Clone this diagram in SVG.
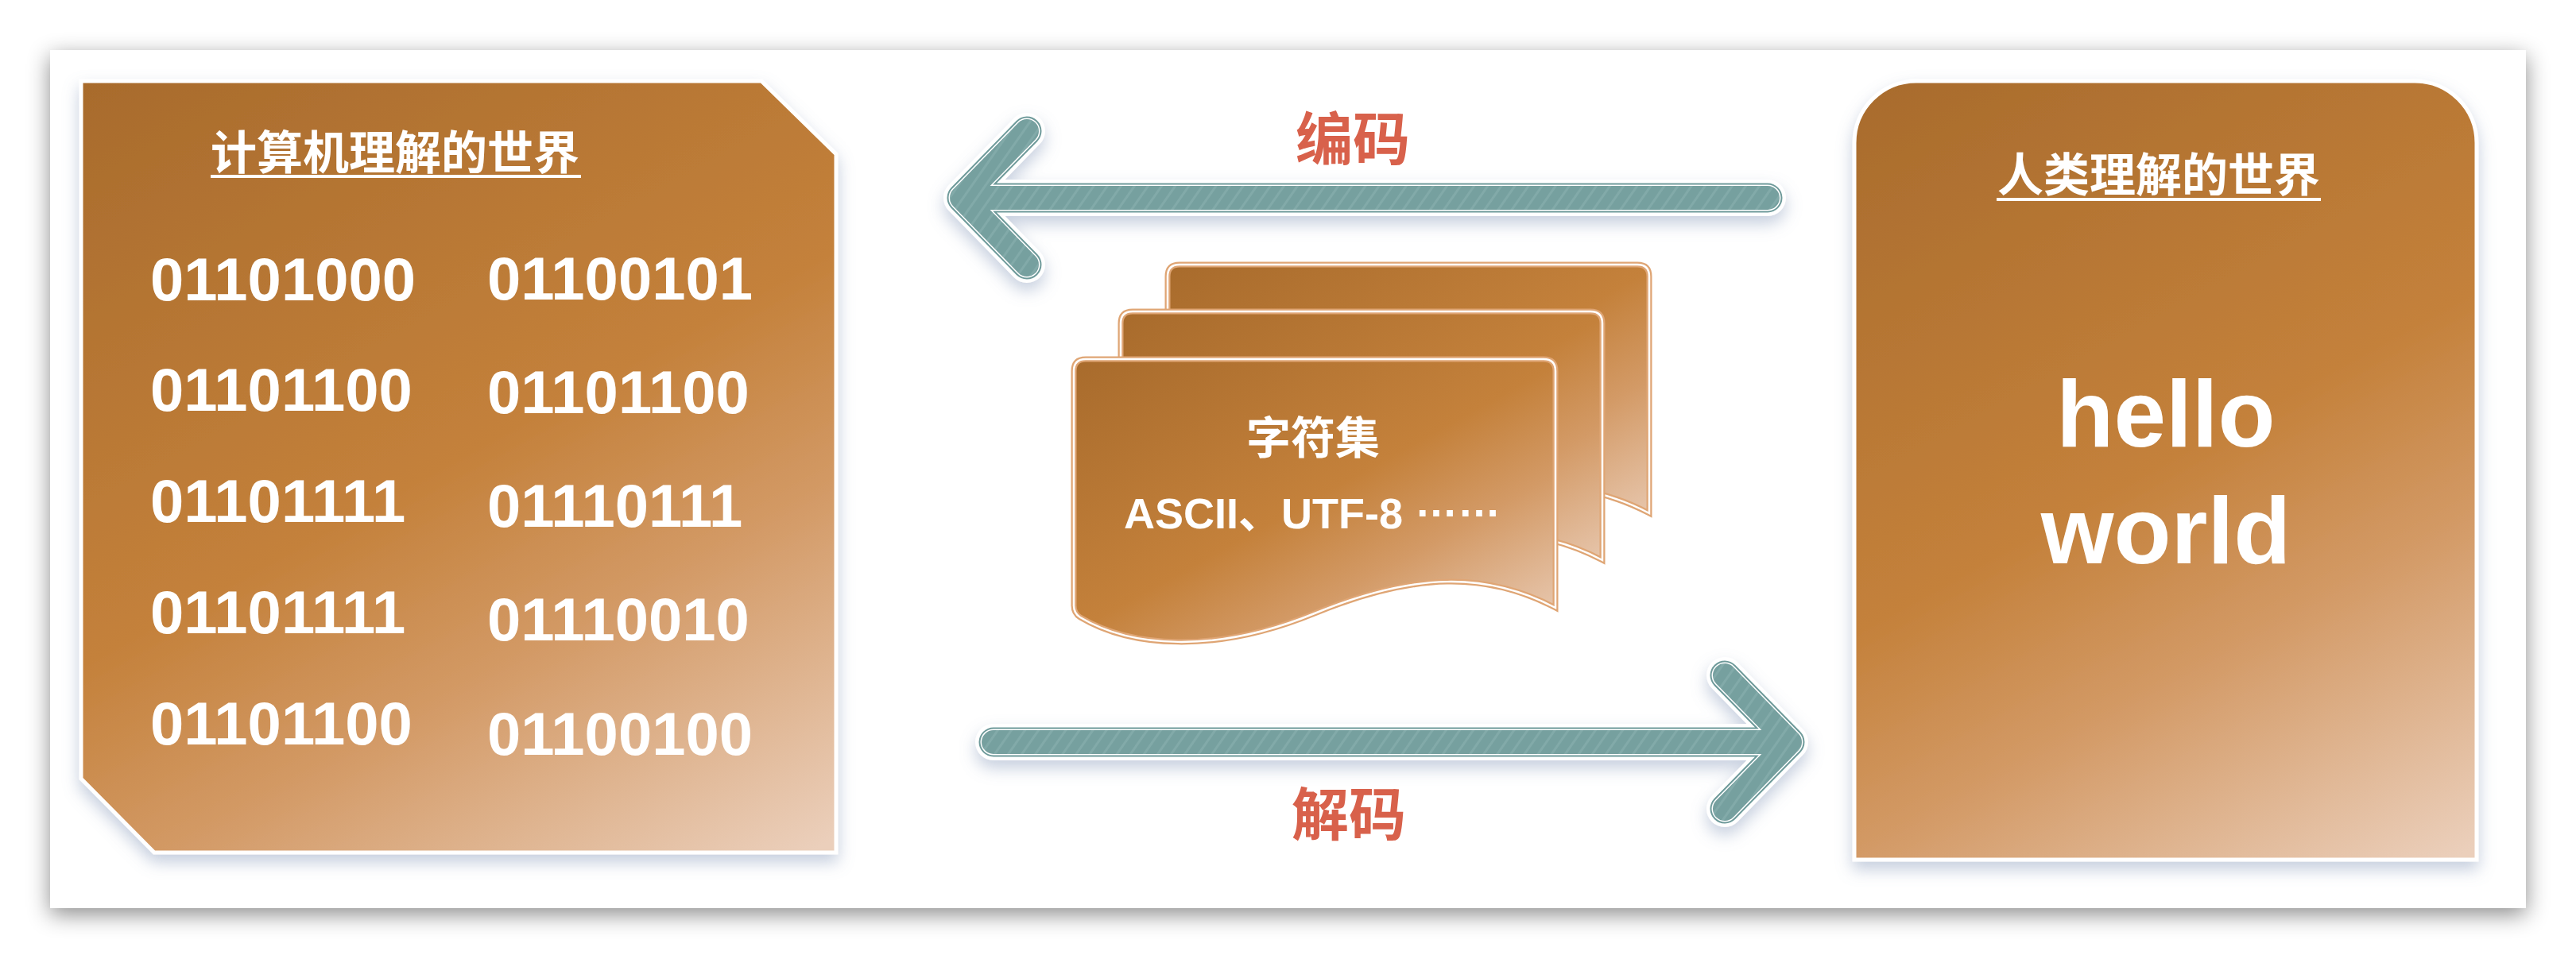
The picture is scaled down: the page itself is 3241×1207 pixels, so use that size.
<svg xmlns="http://www.w3.org/2000/svg" width="3241" height="1207" viewBox="0 0 3241 1207">
<defs>
<filter id="panelShadow" x="-5%" y="-10%" width="110%" height="120%">
<feDropShadow dx="0" dy="8" stdDeviation="14" flood-color="#000" flood-opacity="0.45"/>
</filter>
<filter id="nodeShadow" x="-10%" y="-10%" width="120%" height="125%">
<feDropShadow dx="0" dy="10" stdDeviation="10" flood-color="#7F93B5" flood-opacity="0.45"/>
</filter>
<filter id="arrowShadow" x="-10%" y="-50%" width="120%" height="200%">
<feDropShadow dx="0" dy="10" stdDeviation="10" flood-color="#8296B8" flood-opacity="0.45"/>
</filter>
<linearGradient id="gLeft" gradientUnits="userSpaceOnUse" x1="102" y1="102" x2="726" y2="1234">
<stop offset="0" stop-color="#A86B2C"/>
<stop offset="0.5" stop-color="#C4813B"/>
<stop offset="0.7" stop-color="#D39A66"/>
<stop offset="1" stop-color="#EBCFBB"/>
</linearGradient>
<linearGradient id="gRight" gradientUnits="userSpaceOnUse" x1="2333" y1="102" x2="2923" y2="1171">
<stop offset="0" stop-color="#A86B2C"/>
<stop offset="0.5" stop-color="#C4813B"/>
<stop offset="0.7" stop-color="#D39A66"/>
<stop offset="1" stop-color="#EBCFBB"/>
</linearGradient>
<linearGradient id="gCard" gradientUnits="userSpaceOnUse" x1="0" y1="0" x2="290" y2="525">
<stop offset="0" stop-color="#A86B2C"/>
<stop offset="0.5" stop-color="#C4813B"/>
<stop offset="0.7" stop-color="#D39A66"/>
<stop offset="1" stop-color="#EBCFBB"/>
</linearGradient>
<pattern id="stripes" patternUnits="userSpaceOnUse" width="14" height="14" patternTransform="rotate(35)">
<rect width="14" height="14" fill="#76A09F"/>
<rect width="3" height="14" fill="#82AAA9"/>
</pattern>
<path id="card" d="M0,15 Q0,0 15,0 H591 Q606,0 606,15 V313 C520,268 430,268 303,320 C176,372 70,362 8,325 Q0,320 0,310 Z"/>
</defs>
<style>
.node{stroke:#fff;stroke-width:5;filter:url(#nodeShadow)}
.bin{font-family:"Liberation Sans",Arial,sans-serif;font-weight:bold;font-size:76px;fill:#fff}
.title{font-family:"Noto Sans CJK SC","Liberation Sans",sans-serif;font-weight:bold;font-size:58px;fill:#fff}
.lbl{font-family:"Noto Sans CJK SC","Liberation Sans",sans-serif;font-weight:bold;font-size:72px;fill:#D8614B;text-anchor:middle}
.big{font-family:"Liberation Sans",Arial,sans-serif;font-weight:bold;font-size:118px;fill:#fff;text-anchor:middle}
.cardText{font-family:"Liberation Sans","Noto Sans CJK SC",sans-serif;font-weight:bold;fill:#fff;text-anchor:middle}
.ul{stroke:#fff;stroke-width:4}
.a1{fill:none;stroke:#fff;stroke-width:46;stroke-linecap:round;stroke-linejoin:round;filter:url(#arrowShadow)}
.a2{fill:none;stroke:#6E9A9A;stroke-width:37;stroke-linecap:round;stroke-linejoin:round}
.a3{fill:none;stroke:#fff;stroke-width:33;stroke-linecap:round;stroke-linejoin:round}
.a4{fill:none;stroke:url(#stripes);stroke-width:30;stroke-linecap:round;stroke-linejoin:round}
.cardOut{fill:url(#gCard);stroke:#DFA574;stroke-width:7}
.cardIn{fill:none;stroke:#fff;stroke-width:2.5}
</style>
<rect width="3241" height="1207" fill="#fff"/>
<g id="panel">
<rect x="63" y="63" width="3115" height="1080" fill="#fff" filter="url(#panelShadow)"/>
</g>
<g id="connectors">
<g id="encode-arrow">
<path class="a1" d="M2224,249 H1210 M1292,165 L1210,249 L1292,333"/>
<path class="a2" d="M2224,249 H1210 M1292,165 L1210,249 L1292,333"/>
<path class="a3" d="M2224,249 H1210 M1292,165 L1210,249 L1292,333"/>
<path class="a4" d="M2224,249 H1210 M1292,165 L1210,249 L1292,333"/>
<text class="lbl" x="1702" y="201">编码</text>
</g>
<g id="decode-arrow">
<path class="a1" d="M1250,934 H2252 M2170,850 L2252,934 L2170,1018"/>
<path class="a2" d="M1250,934 H2252 M2170,850 L2252,934 L2170,1018"/>
<path class="a3" d="M1250,934 H2252 M2170,850 L2252,934 L2170,1018"/>
<path class="a4" d="M1250,934 H2252 M2170,850 L2252,934 L2170,1018"/>
<text class="lbl" x="1697" y="1051">解码</text>
</g>
</g>
<g id="computer-world">
<path class="node" fill="url(#gLeft)" d="M102,102 H958 L1052,194 V1073 H194 L102,980 Z"/>
<text class="title" x="265" y="213">计算机理解的世界</text>
<line class="ul" x1="265" y1="222" x2="731" y2="222"/>
<text class="bin" x="189" y="378">01101000</text>
<text class="bin" x="189" y="517">01101100</text>
<text class="bin" x="189" y="657">01101111</text>
<text class="bin" x="189" y="797">01101111</text>
<text class="bin" x="189" y="937">01101100</text>
<text class="bin" x="613" y="377">01100101</text>
<text class="bin" x="613" y="520">01101100</text>
<text class="bin" x="613" y="663">01110111</text>
<text class="bin" x="613" y="806">01110010</text>
<text class="bin" x="613" y="950">01100100</text>
</g>
<g id="charset">
<g transform="translate(1469,333)"><use href="#card" class="cardOut"/><use href="#card" class="cardIn"/></g>
<g transform="translate(1410,392)"><use href="#card" class="cardOut"/><use href="#card" class="cardIn"/></g>
<g transform="translate(1351,452)"><use href="#card" class="cardOut"/><use href="#card" class="cardIn"/></g>
<text class="cardText" x="1652" y="571" font-size="56" font-family="Noto Sans CJK SC, sans-serif">字符集</text>
<text class="cardText" x="1651" y="665" font-size="54">ASCII<tspan font-family="Noto Sans CJK SC">、</tspan>UTF-8 <tspan dy="-15">……</tspan></text>
</g>
<g id="human-world">
<path class="node" fill="url(#gRight)" d="M2333,1082 V180 A78,78 0 0 1 2411,102 H3038 A78,78 0 0 1 3116,180 V1082 Z"/>
<text class="title" x="2716" y="241" text-anchor="middle">人类理解的世界</text>
<line class="ul" x1="2512" y1="251" x2="2920" y2="251"/>
<text class="big" x="2725" y="562">hello</text>
<text class="big" x="2725" y="709">world</text>
</g>
</svg>
